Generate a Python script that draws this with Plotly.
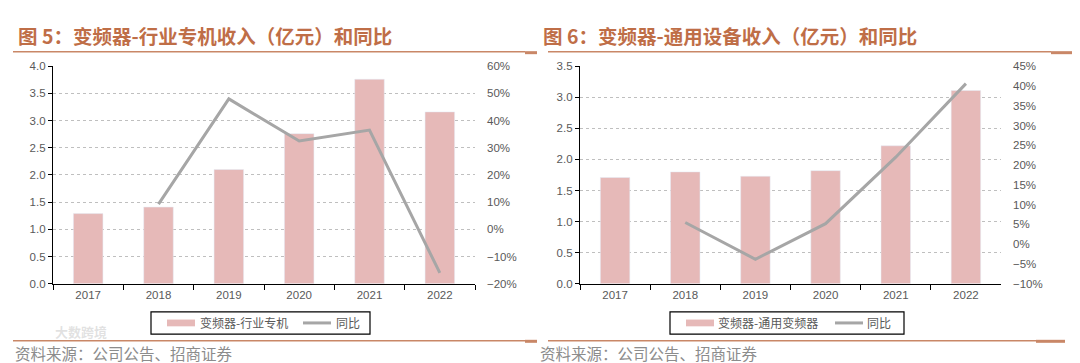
import plotly.graph_objects as go

W, H = 1080, 363

years = ["2017", "2018", "2019", "2020", "2021", "2022"]
rev_special = [1.29, 1.41, 2.10, 2.76, 3.76, 3.16]
yoy_special = [None, 9.3, 48.0, 32.5, 36.5, -16.0]
rev_general = [1.71, 1.80, 1.73, 1.82, 2.22, 3.11]
yoy_general = [None, 5.5, -3.8, 5.2, 22.0, 40.6]

title1 = "图 5：变频器-行业专机收入（亿元）和同比"
title2 = "图 6：变频器-通用设备收入（亿元）和同比"
legend_bar1 = "变频器-行业专机"
legend_bar2 = "变频器-通用变频器"
legend_line = "同比"
source = "资料来源：公司公告、招商证券"
watermark = "大数跨境"

BAR = "#E6B9B8"
LINE = "#A6A6A6"
TITLE = "#BF6E47"
RULE = "#C98767"
TICK = "#595959"
GRID = "#BFBFBF"


def px(x):
    return x / W


def py(y):
    return 1 - y / H


fig = go.Figure()
fig.add_trace(go.Bar(x=years, y=rev_special, marker_color=BAR, width=0.42,
                     xaxis="x", yaxis="y", showlegend=False))
fig.add_trace(go.Scatter(x=years, y=yoy_special, mode="lines", line=dict(color=LINE, width=3),
                         xaxis="x", yaxis="y2", showlegend=False, connectgaps=False))
fig.add_trace(go.Bar(x=years, y=rev_general, marker_color=BAR, width=0.42,
                     xaxis="x2", yaxis="y3", showlegend=False))
fig.add_trace(go.Scatter(x=years, y=yoy_general, mode="lines", line=dict(color=LINE, width=3),
                         xaxis="x2", yaxis="y4", showlegend=False, connectgaps=False))

tickfont = dict(family="Liberation Sans, Arial", size=11.5, color=TICK)
ydom = [py(279), py(54)]


def xax(d0, d1, anchor):
    return dict(domain=[px(d0), px(d1)], anchor=anchor, type="category",
                showline=True, linecolor="black", linewidth=1.2,
                ticks="outside", tickson="boundaries", ticklen=5, tickcolor="black",
                tickfont=tickfont, showgrid=False, zeroline=False, fixedrange=True)


def yleft(rng, dt, anchor):
    return dict(domain=ydom, anchor=anchor, range=rng, dtick=dt, tickformat=".1f",
                showline=True, linecolor="black", linewidth=1.2, ticks="outside",
                ticklen=4, tickcolor="black", tickfont=tickfont,
                showgrid=True, gridcolor=GRID, griddash="dot", gridwidth=1,
                zeroline=False, fixedrange=True)


def yright(rng, dt, anchor, over):
    return dict(domain=ydom, anchor=anchor, overlaying=over, side="right", range=rng,
                dtick=dt, ticksuffix="%", showline=False, showgrid=False,
                zeroline=False, tickfont=tickfont, ticks="", ticklabelstandoff=11,
                fixedrange=True)


fig.update_layout(
    width=W, height=H, margin=dict(l=0, r=0, t=0, b=0),
    paper_bgcolor="white", plot_bgcolor="white",
    xaxis=xax(45, 467, "y"),
    yaxis=yleft([0, 4], 0.5, "x"),
    yaxis2=yright([-20, 60], 10, "x", "y"),
    xaxis2=xax(572, 993, "y3"),
    yaxis3=yleft([0, 3.5], 0.5, "x2"),
    yaxis4=yright([-10, 45], 5, "x2", "y3"),
    showlegend=False,
)

shapes = []
annotations = []

# titles and rules
for tx, title, r0, r1, t0, t1, f0, f1, f2, f3 in [
    (8, title1, 5, 517, 517, 529, 5, 517, 517, 529),
    (533, title2, 540, 1043, 1043, 1075, 540, 1028, 1028, 1057),
]:
    annotations.append(dict(text="<b>" + title + "</b>", x=px(tx), y=py(22), xref="paper", yref="paper",
                            xanchor="left", yanchor="middle", showarrow=False,
                            font=dict(family="Noto Sans CJK SC", size=19.5, color=TITLE)))
    shapes.append(dict(type="line", xref="paper", yref="paper", x0=px(r0), x1=px(r1), y0=py(39), y1=py(39),
                       line=dict(color=RULE, width=1.5)))
    shapes.append(dict(type="line", xref="paper", yref="paper", x0=px(t0), x1=px(t1), y0=py(40), y1=py(40),
                       line=dict(color=RULE, width=3)))
    shapes.append(dict(type="line", xref="paper", yref="paper", x0=px(f0), x1=px(f1), y0=py(338), y1=py(338),
                       line=dict(color=RULE, width=1.5)))
    shapes.append(dict(type="line", xref="paper", yref="paper", x0=px(f2), x1=px(f3), y0=py(338.5), y1=py(338.5),
                       line=dict(color=RULE, width=3)))

# sources
for sx in (5, 530):
    annotations.append(dict(text=source, x=px(sx), y=py(351), xref="paper", yref="paper",
                            xanchor="left", yanchor="middle", showarrow=False,
                            font=dict(family="Noto Sans CJK SC", size=15.5, color="#8C8C8C")))

# watermark
annotations.append(dict(text="<b>" + watermark + "</b>", x=px(45), y=py(328), xref="paper", yref="paper",
                        xanchor="left", yanchor="middle", showarrow=False,
                        font=dict(family="Noto Sans CJK SC", size=13, color="rgba(170,170,170,0.35)")))

# legends (manual)
for bx0, bx1, sw0, sw1, t1x, lw0, lw1, t2x, lab in [
    (143, 362, 159, 187, 190, 295, 323, 326, legend_bar1),
    (662, 896, 678, 706, 708, 827, 855, 857, legend_bar2),
]:
    shapes.append(dict(type="rect", xref="paper", yref="paper", x0=px(bx0), x1=px(bx1), y0=py(331), y1=py(308),
                       line=dict(color="black", width=1.2), fillcolor="rgba(0,0,0,0)"))
    shapes.append(dict(type="rect", xref="paper", yref="paper", x0=px(sw0), x1=px(sw1), y0=py(323), y1=py(316),
                       line=dict(width=0), fillcolor=BAR))
    shapes.append(dict(type="line", xref="paper", yref="paper", x0=px(lw0), x1=px(lw1), y0=py(319.5), y1=py(319.5),
                       line=dict(color=LINE, width=3)))
    annotations.append(dict(text=lab, x=px(t1x), y=py(319.5), xref="paper", yref="paper",
                            xanchor="left", yanchor="middle", showarrow=False,
                            font=dict(family="Noto Sans CJK SC", size=12, color=TICK)))
    annotations.append(dict(text=legend_line, x=px(t2x), y=py(319.5), xref="paper", yref="paper",
                            xanchor="left", yanchor="middle", showarrow=False,
                            font=dict(family="Noto Sans CJK SC", size=12, color=TICK)))

fig.update_layout(shapes=shapes, annotations=annotations)
fig.write_html("out.html")
